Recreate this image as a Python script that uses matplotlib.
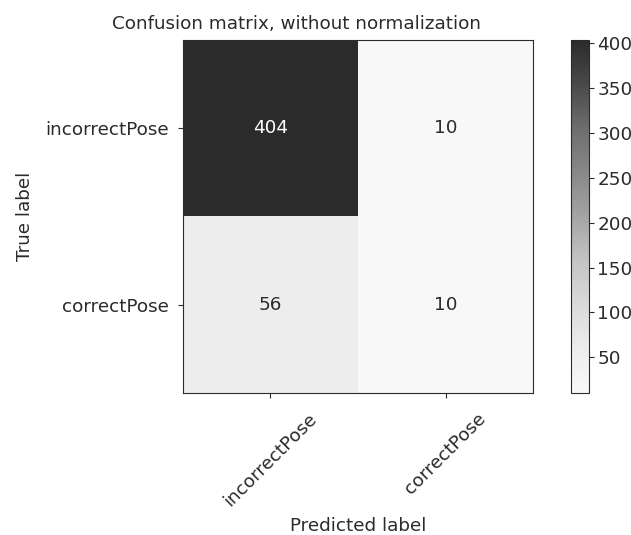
import matplotlib
matplotlib.use("Agg")
import matplotlib.pyplot as plt
import numpy as np
from matplotlib.colors import LinearSegmentedColormap

classes = ["incorrectPose", "correctPose"]
cm = np.array([[404, 10],
               [56, 10]])
cbar_ticks = [50, 100, 150, 200, 250, 300, 350, 400]

ink = "#2b2b2b"
plt.rcParams.update({"font.size": 13.2, "text.color": ink, "axes.labelcolor": ink,
                     "xtick.color": ink, "ytick.color": ink, "axes.edgecolor": ink})

# Greys, slightly washed out like the screenshot
greys = plt.get_cmap("Greys")(np.linspace(0, 1, 256))[:, :3]
greys = 0.17 + greys * (0.975 - 0.17)
cmap = LinearSegmentedColormap.from_list("soft_greys", greys)

fig = plt.figure(figsize=(6.31, 5.35), dpi=100)
ax = fig.add_axes([0.290, 0.2654, 0.5547, 0.660])
cax = fig.add_axes([0.905, 0.2654, 0.0285, 0.660])

im = ax.imshow(cm, interpolation="nearest", cmap=cmap, aspect="auto")
ax.set_title("Confusion matrix, without normalization", fontsize=13.2, x=0.323, pad=8)
cb = fig.colorbar(im, cax=cax, ticks=cbar_ticks)
cb.outline.set_edgecolor(ink)
cax.tick_params(pad=2.5)

ticks = np.arange(len(classes))
ax.set_xticks(ticks)
ax.set_xticklabels(classes, rotation=45)
ax.set_yticks(ticks)
ax.set_yticklabels(classes)
ax.tick_params(axis="x", pad=8.5)
ax.tick_params(axis="y", pad=7)

thresh = cm.max() / 2.
for i in range(cm.shape[0]):
    for j in range(cm.shape[1]):
        ax.text(j, i, format(cm[i, j], "d"), ha="center", va="center",
                color="white" if cm[i, j] > thresh else ink)

ax.set_ylabel("True label", labelpad=8)
ax.set_xlabel("Predicted label", labelpad=5.5)
fig.savefig("out.png", dpi=100)
